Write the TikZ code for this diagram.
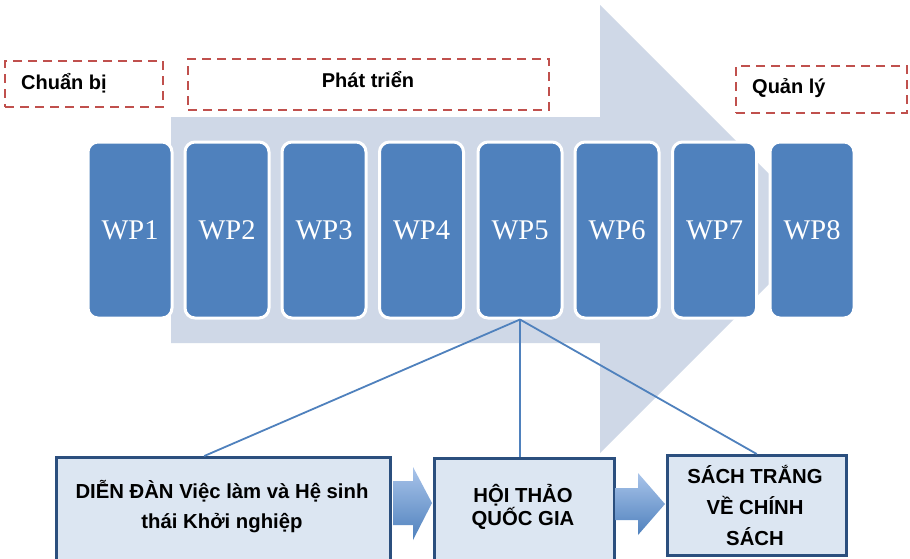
\documentclass[tikz,border=0pt]{standalone}
\usepackage{fontspec}
\setmainfont{Liberation Serif}
\setsansfont{Liberation Sans}
\definecolor{wpblue}{HTML}{4F81BD}
\definecolor{arrowgrey}{HTML}{CFD8E7}
\definecolor{dashred}{HTML}{C0504D}
\definecolor{boxfill}{HTML}{DCE6F2}
\definecolor{boxline}{HTML}{2B4F7E}
\definecolor{lightblue}{HTML}{A9C4EA}
\begin{document}
\begin{tikzpicture}[x=1pt,y=-1pt,
  wpbox/.style={rectangle, rounded corners=10pt, fill=wpblue, draw=white, line width=3pt,
    minimum width=84pt, minimum height=176pt, inner sep=0pt, text=white,
    font=\fontsize{28.5}{30}\selectfont},
  phasebox/.style={rectangle, draw=dashred, line width=2.8pt, dash pattern=on 9pt off 6pt, inner sep=0pt},
  phasetext/.style={font=\sffamily\bfseries\fontsize{20}{22}\selectfont, inner sep=0pt},
  outbox/.style={rectangle, fill=boxfill, draw=boxline, line width=2.5pt, inner sep=0pt},
  outtext/.style={align=center, inner sep=0pt},
  link/.style={draw=wpblue, line width=1.8pt},
  blockarrow/.style={top color=lightblue, bottom color=wpblue}
]
\clip (0,0) rectangle (910,558);
\fill[white] (0,0) rectangle (910,558);
% big background arrow
\fill[arrowgrey] (171,117) -- (600,117) -- (600,5) -- (824,229) -- (600,453) -- (600,343) -- (171,343) -- cycle;
% phase boxes
\node[phasebox, minimum width=158pt, minimum height=46pt] (p1) at (84,84) {};
\node[phasebox, minimum width=361pt, minimum height=51pt] (p2) at (368.5,84.5) {};
\node[phasebox, minimum width=171pt, minimum height=47pt] (p3) at (821.5,89.5) {};
\node[phasetext, anchor=west] (t1) at (21,83) {Chuẩn bị};
\node[phasetext] (t2) at (368,80) {Phát triển};
\node[phasetext, anchor=west] (t3) at (752,88) {Quản lý};
% WP boxes
\foreach \i/\x in {1/130,2/227,3/324,4/421.5,5/520,6/617,7/714.5,8/812}{
  \node[wpbox] (wp\i) at (\x,230) {WP\i};
}
% output boxes
\node[outbox, minimum width=334pt, minimum height=120pt, anchor=north west] (b1) at (55,456) {};
\node[outtext, font=\sffamily\bfseries\fontsize{20.3}{30}\selectfont] (b1t) at (222,507) {DIỄN ĐÀN Việc làm và Hệ sinh\\thái Khởi nghiệp};
\node[outbox, minimum width=180pt, minimum height=120pt, anchor=north west] (b2) at (433,457) {};
\node[outtext, font=\sffamily\bfseries\fontsize{20.3}{23}\selectfont] (b2t) at (523,507) {HỘI THẢO\\QUỐC GIA};
\node[outbox, minimum width=179pt, minimum height=100pt, anchor=north west] (b3) at (666,454) {};
\node[outtext, font=\sffamily\bfseries\fontsize{20.3}{31}\selectfont] (b3t) at (755,505) {SÁCH TRẮNG\\VỀ CHÍNH\\SÁCH};
% block arrows
\shade[blockarrow] (393,481) -- (413,481) -- (413,467) -- (432,503) -- (413,540) -- (413,525) -- (393,525) -- cycle;
\shade[blockarrow] (615,488) -- (638,488) -- (638,473) -- (665,504) -- (638,535) -- (638,520) -- (615,520) -- cycle;
% connectors
\draw[link] (wp5.south) -- ([xshift=-19pt]b1.north);
\draw[link] (wp5.south) -- (b2.north -| wp5.south);
\draw[link] (wp5.south) -- (b3.north);
\end{tikzpicture}
\end{document}
